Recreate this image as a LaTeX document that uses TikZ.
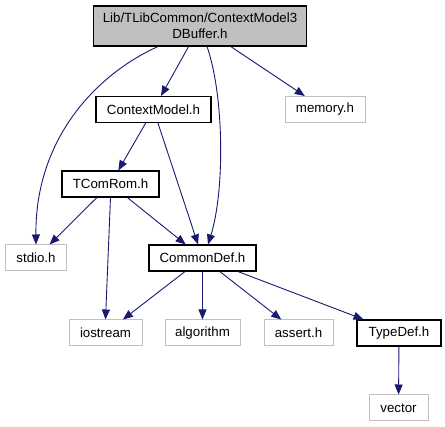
\documentclass[tikz,border=0pt]{standalone}
\usepackage{fontspec}
\setmainfont{Liberation Sans}
\usepackage{tikz}
\usetikzlibrary{arrows.meta}
\definecolor{edgeBlue}{RGB}{25,25,112}
\definecolor{boxGray}{RGB}{191,191,191}

\begin{document}
\begin{tikzpicture}[
    x=1pt, y=-1pt,
    font=\fontsize{13.3}{16}\selectfont,
    filebox/.style={
        draw=black,
        line width=1.1pt,
        fill=white,
        align=center,
        inner sep=0pt,
        minimum height=26pt
    },
    sysbox/.style={
        draw=boxGray,
        line width=1pt,
        fill=white,
        inner sep=0pt,
        minimum height=26pt
    },
    edge/.style={
        -{Triangle[length=10pt,width=8pt]},
        line width=0.9pt,
        color=edgeBlue
    }
]
    \useasboundingbox (0,0) rectangle (445,427);

    % ---------------------------------------------------------
    % TOP: THE FILE ITSELF
    % ---------------------------------------------------------
    \node[filebox, fill=boxGray, minimum width=213pt, minimum height=40pt] (buffer) at (200,26)
        {Lib/TLibCommon/ContextModel3\\DBuffer.h};

    % ---------------------------------------------------------
    % INCLUDED FILES
    % ---------------------------------------------------------
    \node[filebox, minimum width=115pt] (ctxmodel) at (153.5,109.5) {ContextModel.h};
    \node[sysbox, minimum width=80pt] (memory) at (325,109.5) {memory.h};
    \node[filebox, minimum width=97pt] (tcomrom) at (110.5,184) {TComRom.h};
    \node[sysbox, minimum width=61pt] (stdio) at (36,258) {stdio.h};
    \node[filebox, minimum width=107pt] (commondef) at (202.5,258) {CommonDef.h};

    % bottom row
    \node[sysbox, minimum width=73pt] (iostream) at (105.5,333) {iostream};
    \node[sysbox, minimum width=75pt] (algorithm) at (202.5,333) {algorithm};
    \node[sysbox, minimum width=69pt] (assert) at (298.5,333) {assert.h};
    \node[filebox, minimum width=84pt] (typedef) at (399,333) {TypeDef.h};
    \node[sysbox, minimum width=59pt] (vector) at (398.5,408) {vector};

    % ---------------------------------------------------------
    % ARROWS
    % ---------------------------------------------------------
    % From the top file
    \draw[edge] ([xshift=65pt]buffer.south west) .. controls (95,75) and (35,140) .. (stdio.north);
    \draw[edge] (buffer) -- (ctxmodel);
    \draw[edge] ([xshift=7pt]buffer.south) .. controls (224,95) and (225,190) .. ([xshift=5.5pt]commondef.north);
    \draw[edge] (buffer) -- (memory);

    % From ContextModel.h and TComRom.h
    \draw[edge] (ctxmodel) -- (tcomrom);
    \draw[edge] (ctxmodel) -- (commondef);
    \draw[edge] (tcomrom) -- (stdio);
    \draw[edge] (tcomrom.south) -- (iostream.north);
    \draw[edge] (tcomrom) -- (commondef);

    % From CommonDef.h
    \draw[edge] (commondef) -- (iostream);
    \draw[edge] (commondef) -- (algorithm);
    \draw[edge] (commondef) -- (assert);
    \draw[edge] (commondef) -- (typedef);
    \draw[edge] (typedef) -- (vector);

\end{tikzpicture}
\end{document}
